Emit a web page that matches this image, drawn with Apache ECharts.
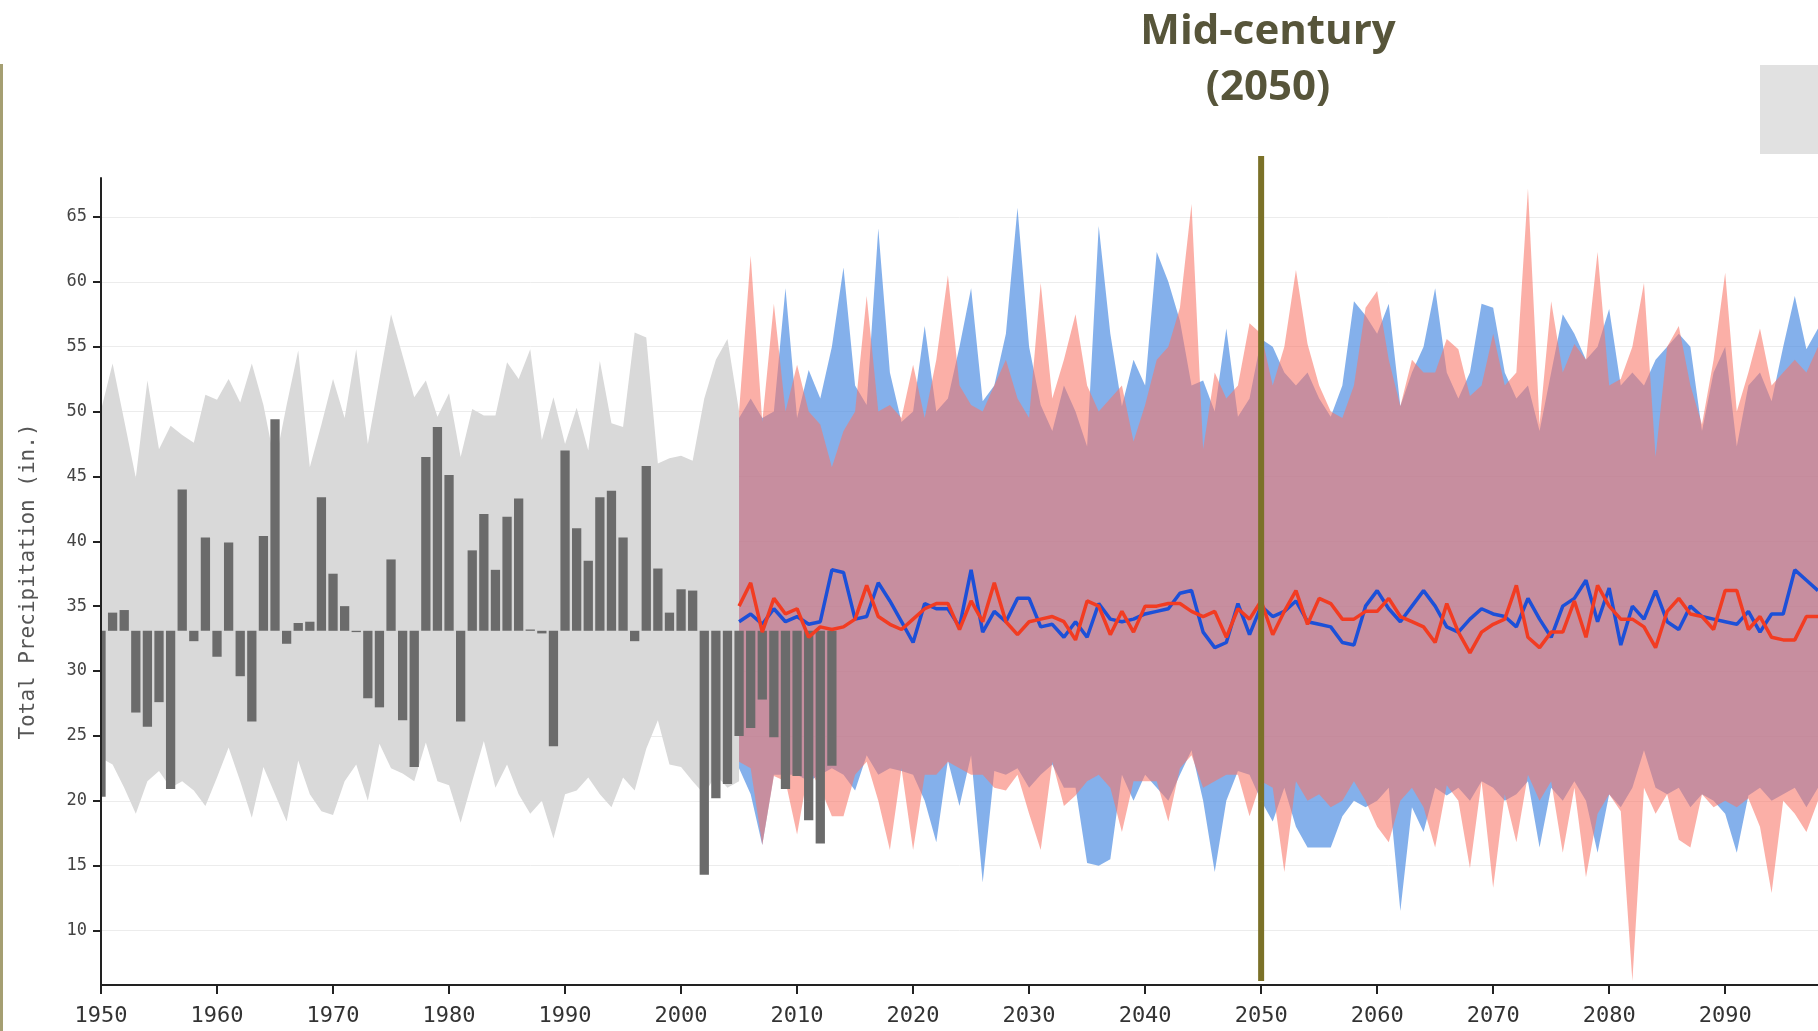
<!DOCTYPE html>
<html><head><meta charset="utf-8">
<script src="https://cdn.jsdelivr.net/npm/echarts@6/dist/echarts.min.js"></script>
<style>html,body{margin:0;padding:0;background:#fff}#c{width:1818px;height:1031px}</style>
</head><body><div id="c"></div>
<script>
// ---------- DATA ----------
const histStart = 1950;   // first year of historical envelope and observed bars
const futStart = 2005;    // first year of projections
const baseline = 33.1;    // long-term mean, bars drawn from it
const midCentury = 2050;

const xTicks = [1950,1960,1970,1980,1990,2000,2010,2020,2030,2040,2050,2060,2070,2080,2090];
const yTicks = [10,15,20,25,30,35,40,45,50,55,60,65];

const observed = [20.3,34.5,34.7,26.8,25.7,27.6,20.9,44.0,32.3,40.3,
  31.1,39.9,29.6,26.1,40.4,49.4,32.1,33.7,33.8,43.4,
  37.5,35.0,33.0,27.9,27.2,38.6,26.2,22.6,46.5,48.8,
  45.1,26.1,39.3,42.1,37.8,41.9,43.3,33.2,32.9,24.2,
  47.0,41.0,38.5,43.4,43.9,40.3,32.3,45.8,37.9,34.5,
  36.3,36.2,14.3,20.2,21.3,25.0,25.6,27.8,24.9,20.9,
  21.9,18.5,16.7,22.7];

const histUpper = [50.1,53.7,49.3,44.9,52.4,47.1,48.9,48.2,47.6,51.3,
  50.9,52.5,50.7,53.7,50.5,46.0,50.5,54.7,45.7,49.0,
  52.5,49.5,54.8,47.5,52.5,57.5,54.3,51.1,52.4,49.6,
  51.4,46.5,50.2,49.7,49.7,53.8,52.5,54.8,47.8,51.1,
  47.5,50.3,47.0,53.9,49.1,48.8,56.1,55.7,46.0,46.4,
  46.6,46.2,51.0,54.0,55.6,50.0];
const histLower = [23.3,22.8,21.0,19.0,21.5,22.3,21.0,21.5,20.8,19.6,
  21.8,24.1,21.5,18.7,22.6,20.5,18.4,23.1,20.5,19.2,
  18.9,21.5,22.8,20.0,24.4,22.5,22.1,21.5,24.5,21.5,
  21.2,18.3,21.5,24.6,21.0,22.8,20.5,19.0,20.0,17.1,
  20.5,20.8,21.8,20.5,19.5,21.8,20.8,24.0,26.2,22.8,
  22.6,21.5,20.5,22.0,21.0,21.5];

const blueUpper = [49.5,51,49.5,50,59.5,49.5,53.2,51,55,61.1,
  52,50.5,64.1,53,49.2,50,56.6,50,51,55,
  59.5,50.8,52,56,65.7,55,50.5,48.5,52,50,
  47.3,64.3,56,50.4,54,52,62.3,60,57,52,
  52.4,50,56.4,49.6,51,55.6,55,53,52,53,
  51,49.6,52,58.5,57.4,56,58.3,50.4,53,55,
  59.5,53,51,53,58.3,58,53,51,52,48.5,
  53,57.5,56,54,55,57.9,52,53,52,54,
  55,56,55,48.5,53,55,47.3,52,53,50.8,
  55,58.9,54.8,56.4];
const redUpper = [50,62,49.2,58.3,50,53.6,50,49,45.7,48.5,
  50,58.9,50,50.5,49.5,53.6,49.5,54,60.5,52,
  50.5,50,52,54,51,49.5,59.9,51,54,57.5,
  52,50,51,52,47.7,50.5,54,55,58,66,
  47.1,53,51,52,56.8,56,52,55,60.9,55.2,
  52,50,49.5,52,58,59.3,54,50.4,54,53,
  53,55.6,54.8,51.2,52,56,52,53,67.2,49,
  58.5,53,55.2,54,62.3,52,52.5,55,59.9,46.5,
  55,56.6,52,49,54,60.7,50,53,56.4,52,
  53,54,53,55];
const blueLower = [22.5,20.5,16.6,22,22,22,21.5,22,22.5,22,
  20.8,23.5,22,22.5,22.3,22,20,16.8,23.1,19.6,
  23.5,13.7,22.3,22,22.5,21,22,22.8,21,21,
  15.2,15.0,15.5,22,20,22,21,20,22,23.9,
  20,14.5,20,22.3,22,20,18.4,21,18,16.4,
  16.4,16.4,18.8,20,19.5,20,21,11.5,19.5,17.6,
  21,20.4,21,20,21.5,21,20,20.5,21.5,16.4,
  21,20,21.5,20,16.0,20.5,19.5,21,23.9,21,
  20.5,21,19.5,20.5,20,19,16.0,20.4,21,20,
  20.5,21,19.5,21];
const redLower = [23,22.5,16.6,21.9,21.5,17.4,22.5,21,18.8,18.8,
  22,23,20,16.2,22.5,16.2,22,22,23,22.5,
  22,22,21,20.8,22,19,16.2,23,19.6,20.4,
  21.5,22,21,17.6,21.5,21.5,21.5,18.4,22.5,23.5,
  21,21.5,22,22,18.8,21.5,21,14.5,21.5,20,
  20.5,19.5,20,21.5,20,18,16.8,20,21,19.5,
  16.4,21.2,20,14.8,21.5,13.3,20.5,16.8,22,20,
  21.5,16.0,21,14.1,19,20.5,19.2,6.1,21,19,
  20.5,17,16.4,20.5,19.5,20,19.5,20.2,18,12.9,
  20,19,17.6,20];
const blueMedian = [33.8,34.4,33.6,34.8,33.8,34.2,33.6,33.8,37.8,37.6,
  34.0,34.2,36.8,35.4,33.8,32.2,35.2,34.8,34.8,33.4,
  37.8,33.0,34.6,33.8,35.6,35.6,33.4,33.6,32.6,33.8,
  32.6,35.2,34.0,33.8,34.0,34.4,34.6,34.8,36.0,36.2,
  33.0,31.8,32.2,35.2,32.8,35.0,34.2,34.6,35.4,33.8,
  33.6,33.4,32.2,32.0,35.0,36.2,34.8,33.8,35.0,36.2,
  35.0,33.4,33.0,34.0,34.8,34.4,34.2,33.4,35.6,34.0,
  32.6,35.0,35.6,37.0,33.8,36.4,32.0,35.0,34.0,36.2,
  33.8,33.2,35.0,34.2,34.0,33.8,33.6,34.6,33.0,34.4,
  34.4,37.8,37.0,36.2];
const redMedian = [35.0,36.8,33.0,35.6,34.4,34.8,32.6,33.4,33.2,33.4,
  34.0,36.6,34.2,33.6,33.2,34.0,34.8,35.2,35.2,33.2,
  35.4,33.8,36.8,33.8,32.8,33.8,34.0,34.2,33.8,32.4,
  35.4,35.0,32.8,34.6,33.0,35.0,35.0,35.2,35.2,34.6,
  34.2,34.6,32.6,34.8,34.0,35.4,32.8,34.6,36.2,33.6,
  35.6,35.2,34.0,34.0,34.6,34.6,35.6,34.2,33.8,33.4,
  32.2,35.2,33.0,31.4,33.0,33.6,34.0,36.6,32.6,31.8,
  33.0,33.0,35.4,32.6,36.6,35.0,34.0,34.0,33.4,31.8,
  34.6,35.6,34.4,34.2,33.2,36.2,36.2,33.2,34.2,32.6,
  32.4,32.4,34.2,34.2];

// ---------- BUILD ----------
const histYears = histUpper.map((_, i) => histStart + i);
const obsYears = observed.map((_, i) => histStart + i);
const futYears = blueUpper.map((_, i) => futStart + i);

function band(name, yrs, up, lo, color, z) {
  return {
    type: 'custom', name, z, clip: true, silent: true,
    data: [[yrs[0], up[0]]],
    renderItem: function (params, api) {
      const pts = [];
      for (let i = 0; i < yrs.length; i++) pts.push(api.coord([yrs[i], up[i]]));
      for (let i = yrs.length - 1; i >= 0; i--) pts.push(api.coord([yrs[i], lo[i]]));
      return { type: 'polygon', shape: { points: pts }, style: { fill: color } };
    }
  };
}

const chart = echarts.init(document.getElementById('c'), null, { renderer: 'canvas' });
const mono = 'DejaVu Sans Mono';

chart.setOption({
  animation: false,
  backgroundColor: '#fff',
  grid: { left: 101, right: 0, top: 178, bottom: 46, containLabel: false },
  xAxis: {
    type: 'value', min: 1950, max: 2098, z: 30,
    axisLine: { show: true, onZero: false, lineStyle: { color: '#222', width: 2 } },
    axisTick: { show: true, customValues: xTicks, length: 9, lineStyle: { color: '#222', width: 2 } },
    axisLabel: { customValues: xTicks, margin: 20, fontFamily: mono, fontSize: 22, color: '#333', formatter: v => String(v) },
    splitLine: { show: false }
  },
  yAxis: {
    type: 'value', min: 5.8, max: 68, z: 30,
    name: 'Total Precipitation (in.)', nameLocation: 'middle', nameRotate: 90, nameGap: 62,
    nameTextStyle: { fontFamily: mono, fontSize: 21, color: '#555' },
    axisLine: { show: true, onZero: false, lineStyle: { color: '#222', width: 2 } },
    axisTick: { show: true, customValues: yTicks, length: 8, lineStyle: { color: '#222', width: 2 } },
    axisLabel: { customValues: yTicks, margin: 14, fontFamily: mono, fontSize: 17, color: '#444' },
    splitLine: { show: false }
  },
  graphic: [
    { type: 'rect', left: 0, top: 64, shape: { width: 3, height: 967 }, style: { fill: '#a59f72' }, z: 40 },
    { type: 'rect', left: 1760, top: 65, shape: { width: 58, height: 89 }, style: { fill: '#e1e1e1' }, z: 40 },
    { type: 'text', x: 1268, y: 32, style: { text: 'Mid-century', fontFamily: 'Open Sans', fontWeight: 'bold', fontSize: 42, fill: '#57553a', textAlign: 'center', textVerticalAlign: 'middle' }, z: 40 },
    { type: 'text', x: 1268, y: 88, style: { text: '(2050)', fontFamily: 'Open Sans', fontWeight: 'bold', fontSize: 42, fill: '#57553a', textAlign: 'center', textVerticalAlign: 'middle' }, z: 40 }
  ],
  series: [
    { type: 'line', data: [], z: 1, silent: true,
      markLine: { z: 1, silent: true, symbol: 'none', label: { show: false }, animation: false,
        lineStyle: { color: '#ececec', width: 1, type: 'solid' },
        data: yTicks.map(v => ({ yAxis: v })) } },
    band('hist', histYears, histUpper, histLower, '#d9d9d9', 10),
    band('blueBand', futYears, blueUpper, blueLower, 'rgba(80,142,226,0.7)', 11),
    band('redBand', futYears, redUpper, redLower, 'rgba(248,118,104,0.58)', 12),
    {
      type: 'custom', name: 'observed', z: 13, clip: true, silent: true,
      data: obsYears.map((y, i) => [y, observed[i]]),
      renderItem: function (params, api) {
        const x = api.value(0), v = api.value(1);
        const p0 = api.coord([x, baseline]), p1 = api.coord([x, v]);
        const w = api.size([1, 0])[0] * 0.8;
        return { type: 'rect', shape: { x: p0[0] - w / 2, y: Math.min(p0[1], p1[1]), width: w, height: Math.abs(p1[1] - p0[1]) }, style: { fill: '#6b6b6b' } };
      }
    },
    { type: 'line', name: 'blueMedian', z: 14, showSymbol: false, silent: true,
      data: futYears.map((y, i) => [y, blueMedian[i]]),
      lineStyle: { color: '#1c50d8', width: 3.5 } },
    { type: 'line', name: 'redMedian', z: 15, showSymbol: false, silent: true,
      data: futYears.map((y, i) => [y, redMedian[i]]),
      lineStyle: { color: '#f23c22', width: 3.5 } },
    {
      type: 'custom', name: 'midCentury', z: 16, clip: false, silent: true,
      data: [[midCentury, 35]],
      renderItem: function (params, api) {
        const x = api.coord([api.value(0), 35])[0];
        return { type: 'line', shape: { x1: x, y1: 156, x2: x, y2: 981 }, style: { stroke: '#7b7128', lineWidth: 6 } };
      }
    }
  ]
});
</script>
</body></html>
